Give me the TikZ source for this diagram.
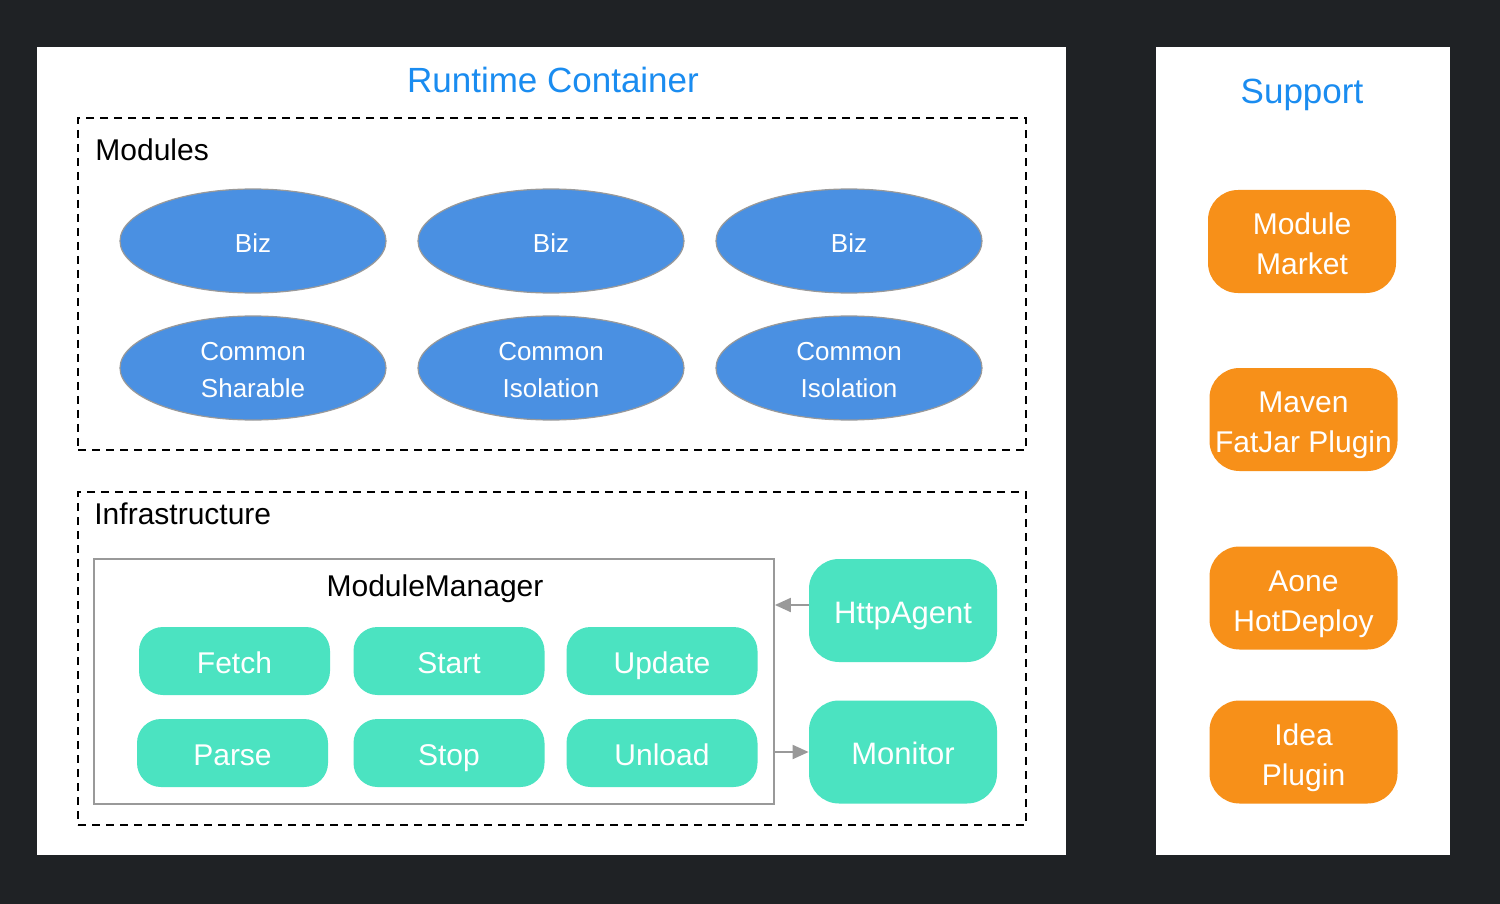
\documentclass[tikz,border=0pt]{standalone}
\usepackage{fontspec}
\setmainfont{Liberation Sans}
\usetikzlibrary{shapes.geometric,arrows.meta}
\definecolor{bgdark}{HTML}{1F2225}
\definecolor{titleblue}{HTML}{1A8CF0}
\definecolor{ellblue}{HTML}{4A90E2}
\definecolor{mint}{HTML}{4BE3C1}
\definecolor{orng}{HTML}{F79019}
\definecolor{arrgrey}{HTML}{999999}
\tikzset{
  panel/.style={draw=bgdark, line width=1pt, fill=white, inner sep=0pt},
  dashbox/.style={draw=black, line width=0.9pt, dash pattern=on 4pt off 3pt, inner sep=0pt},
  ell/.style={ellipse, draw=arrgrey, line width=0.6pt, fill=ellblue, inner sep=0pt,
    minimum width=133pt, minimum height=52pt},
  elltext/.style={text=white, inner sep=0pt, align=center, yshift=-1pt, font=\fontsize{13}{18.5}\selectfont},
  opbox/.style={rounded corners=12pt, fill=mint, text=white, inner sep=0pt,
    minimum width=95.5pt, minimum height=34pt, text height=12.7pt, text depth=0pt,
    font=\fontsize{15}{18}\selectfont},
  sidebox/.style={rounded corners=15pt, fill=mint, text=white, inner sep=0pt,
    minimum width=94pt, minimum height=51.5pt, text height=12.7pt, text depth=0pt,
    font=\fontsize{15.5}{18}\selectfont},
  supbox/.style={rounded corners=15pt, fill=orng, inner sep=0pt,
    minimum width=94pt, minimum height=51.5pt},
  suptext/.style={text=white, inner sep=0pt, align=center, font=\fontsize{15}{20}\selectfont},
  ttl/.style={text=titleblue, text height=12.5pt, text depth=0pt, font=\fontsize{17.5}{20}\selectfont},
  lbl/.style={text=black, anchor=west, inner sep=0pt, font=\fontsize{15}{18}\selectfont},
  arr/.style={draw=arrgrey, line width=1pt, -{Triangle[length=8pt,width=7pt]}}
}
\begin{document}
\begin{tikzpicture}[x=0.5pt,y=-0.5pt]
\fill[bgdark] (0,0) rectangle (1500,904);
\useasboundingbox (0,0) rectangle (1500,904);
% panels
\node[panel, minimum width=515.5pt, minimum height=405pt] (rt) at (551.5,451) {};
\node[panel, minimum width=148pt, minimum height=405pt] (sp) at (1303,451) {};
\node[ttl] (rttitle) at (553,80) {Runtime Container};
\node[ttl] (sptitle) at (1302,91) {Support};
% modules
\node[dashbox, minimum width=474pt, minimum height=166pt] (mods) at (552,284) {};
\node[lbl] (modlbl) at (95,150) {Modules};
\node[ell] (b1) at (253,241) {};
\node[ell] (b2) at (551,241) {};
\node[ell] (b3) at (849,241) {};
\node[ell] (c1) at (253,368) {};
\node[ell] (c2) at (551,368) {};
\node[ell] (c3) at (849,368) {};
\node[elltext] (b1t) at (b1) {Biz};
\node[elltext] (b2t) at (b2) {Biz};
\node[elltext] (b3t) at (b3) {Biz};
\node[elltext] (c1t) at (c1) {Common\\Sharable};
\node[elltext] (c2t) at (c2) {Common\\Isolation};
\node[elltext] (c3t) at (c3) {Common\\Isolation};
% infrastructure
\node[dashbox, minimum width=474pt, minimum height=166.5pt] (infra) at (552,658.5) {};
\node[lbl] (infralbl) at (94,514) {Infrastructure};
\node[draw=arrgrey, line width=0.9pt, inner sep=0pt, minimum width=340pt, minimum height=122.5pt] (mm) at (434,681.5) {};
\node[text=black, font=\fontsize{15}{18}\selectfont] (mmlbl) at (435,589) {ModuleManager};
\node[opbox] (fetch) at (234.5,661) {Fetch};
\node[opbox] (start) at (449,661) {Start};
\node[opbox] (update) at (662,661) {Update};
\node[opbox] (parse) at (232.5,753) {Parse};
\node[opbox] (stop) at (449,753) {Stop};
\node[opbox] (unload) at (662,753) {Unload};
\node[sidebox] (http) at (903,610.5) {HttpAgent};
\node[sidebox] (mon) at (903,752) {Monitor};
\draw[arr] (http.west |- 0,605) -- (mm.east |- 0,605);
\draw[arr] (mm.east |- mon.west) -- (mon.west);
% support
\node[supbox] (market) at (1302,241.5) {};
\node[supbox] (maven) at (1303.5,419.5) {};
\node[supbox] (aone) at (1303.5,598) {};
\node[supbox] (idea) at (1303.5,752) {};
\node[suptext, yshift=-1pt] (markett) at (market) {Module\\Market};
\node[suptext, yshift=-3pt] (mavent) at (maven) {Maven\\FatJar Plugin};
\node[suptext, yshift=-3pt] (aonet) at (aone) {Aone\\HotDeploy};
\node[suptext, yshift=-3pt] (ideat) at (idea) {Idea\\Plugin};
\end{tikzpicture}
\end{document}
